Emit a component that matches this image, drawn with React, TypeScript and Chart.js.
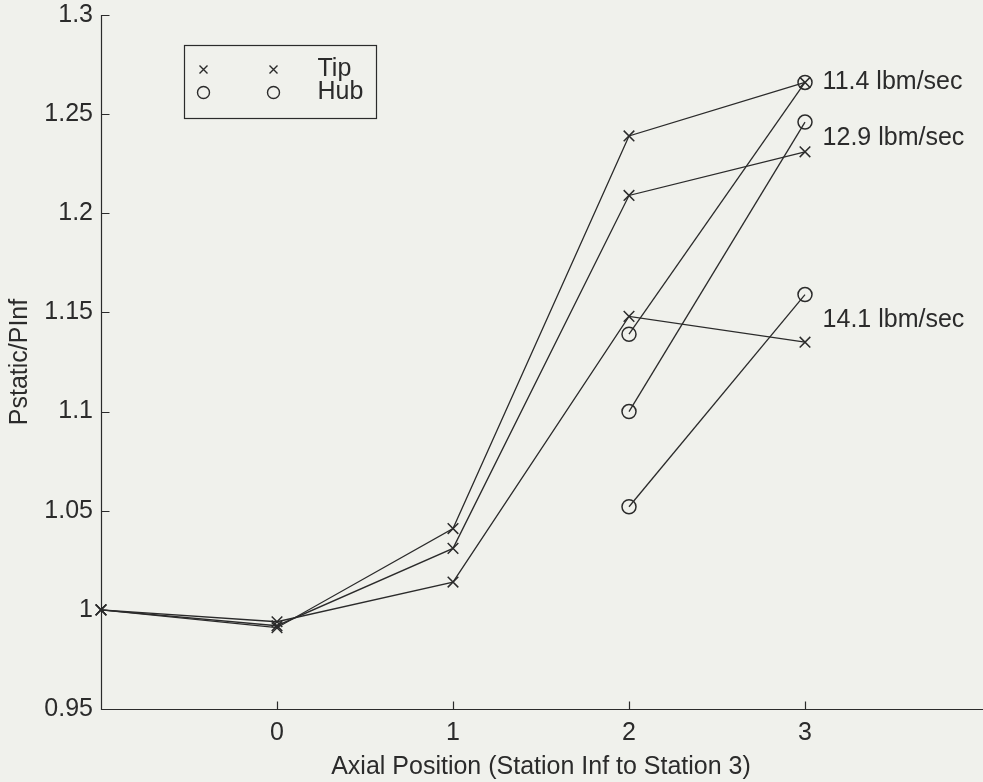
import React, { useEffect, useRef } from 'react';
import { Chart, registerables } from 'chart.js';

Chart.register(...registerables);

// Axial stations: -1 stands for "Station Inf"
const stations = [-1, 0, 1, 2, 3];
const hubStations = [2, 3];

// Tip static pressure ratio, one series per mass flow rate
const tip114 = [1.0, 0.991, 1.041, 1.239, 1.266];
const tip129 = [1.0, 0.992, 1.031, 1.209, 1.231];
const tip141 = [1.0, 0.994, 1.014, 1.148, 1.135];

// Hub static pressure ratio (stations 2 and 3 only)
const hub114 = [1.139, 1.266];
const hub129 = [1.1, 1.246];
const hub141 = [1.052, 1.159];

const xTicks = [0, 1, 2, 3];
const yTicks = [0.95, 1, 1.05, 1.1, 1.15, 1.2, 1.25, 1.3];

const flowLabels = ['11.4 lbm/sec', '12.9 lbm/sec', '14.1 lbm/sec'];
const flowLabelX = 3.1;
const flowLabelY = [1.266, 1.238, 1.146];

const legendLabels = ['Tip', 'Hub'];

const INK = '#2b2b2b';
const BG = '#f0f1ec';
const FONT = '"Liberation Sans", Arial, Helvetica, sans-serif';
const FONT_SIZE = 25;
const VIEW_W = 983;
const VIEW_H = 782;
const CANVAS_W = 990;

const toPoints = (xs: number[], ys: number[]) => xs.map((x, i) => ({ x, y: ys[i] }));

const tipStyle = {
  borderColor: INK,
  borderWidth: 1.3,
  pointStyle: 'crossRot',
  pointRadius: 7.5,
  pointBorderWidth: 1.5,
  pointBorderColor: INK,
  pointBackgroundColor: 'rgba(0,0,0,0)',
  showLine: true,
  fill: false,
  tension: 0,
  clip: false,
};

const hubStyle = {
  ...tipStyle,
  pointStyle: 'circle',
  pointRadius: 7,
};

const backdrop = {
  id: 'backdrop',
  beforeDraw(chart: any) {
    const { ctx } = chart;
    ctx.save();
    ctx.fillStyle = BG;
    ctx.fillRect(0, 0, chart.width, chart.height);
    ctx.restore();
  },
};

// Axis lines with inward tick marks
const axesFrame = {
  id: 'axesFrame',
  beforeDatasetsDraw(chart: any) {
    const { ctx, chartArea: a, scales } = chart;
    const xs = scales.x;
    const ys = scales.y;
    const left = Math.round(a.left) + 0.5;
    const bottom = Math.round(a.bottom) + 0.5;
    ctx.save();
    ctx.strokeStyle = INK;
    ctx.lineWidth = 1.2;
    ctx.beginPath();
    ctx.moveTo(left, Math.round(a.top));
    ctx.lineTo(left, bottom);
    ctx.lineTo(chart.width, bottom);
    for (const v of yTicks) {
      const py = Math.round(ys.getPixelForValue(v)) + 0.5;
      ctx.moveTo(left, py);
      ctx.lineTo(left + 8, py);
    }
    for (const v of xTicks) {
      const px = Math.round(xs.getPixelForValue(v)) + 0.5;
      ctx.moveTo(px, bottom);
      ctx.lineTo(px, bottom - 8);
    }
    ctx.stroke();
    ctx.restore();
  },
};

// Flow-rate labels and the marker legend box
const annotations = {
  id: 'annotations',
  afterDatasetsDraw(chart: any) {
    const { ctx, chartArea: a, scales } = chart;
    ctx.save();
    ctx.fillStyle = INK;
    ctx.font = `${FONT_SIZE}px ${FONT}`;
    ctx.textAlign = 'left';
    ctx.textBaseline = 'middle';
    flowLabels.forEach((t, i) => {
      ctx.fillText(t, scales.x.getPixelForValue(flowLabelX), scales.y.getPixelForValue(flowLabelY[i]));
    });

    const bx = Math.round(a.left + 83) + 0.5;
    const by = Math.round(a.top + 30) + 0.5;
    const bw = 192;
    const bh = 73;
    ctx.strokeStyle = INK;
    ctx.lineWidth = 1.2;
    ctx.strokeRect(bx, by, bw, bh);

    const rows = [by + 24, by + 47];
    const markX = [bx + 19, bx + 89];
    ctx.lineWidth = 1.4;
    markX.forEach((mx) => {
      const r = 4;
      ctx.beginPath();
      ctx.moveTo(mx - r, rows[0] - r);
      ctx.lineTo(mx + r, rows[0] + r);
      ctx.moveTo(mx - r, rows[0] + r);
      ctx.lineTo(mx + r, rows[0] - r);
      ctx.stroke();
      ctx.beginPath();
      ctx.arc(mx, rows[1], 6, 0, Math.PI * 2);
      ctx.stroke();
    });
    legendLabels.forEach((t, i) => {
      ctx.fillText(t, bx + 133, rows[i]);
    });
    ctx.restore();
  },
};

export default function App() {
  const canvasRef = useRef<HTMLCanvasElement | null>(null);

  useEffect(() => {
    const canvas = canvasRef.current;
    if (!canvas) return;
    const chart = new Chart(canvas, {
      type: 'scatter',
      data: {
        datasets: [
          { label: 'Tip 11.4', data: toPoints(stations, tip114), ...tipStyle },
          { label: 'Tip 12.9', data: toPoints(stations, tip129), ...tipStyle },
          { label: 'Tip 14.1', data: toPoints(stations, tip141), ...tipStyle },
          { label: 'Hub 11.4', data: toPoints(hubStations, hub114), ...hubStyle },
          { label: 'Hub 12.9', data: toPoints(hubStations, hub129), ...hubStyle },
          { label: 'Hub 14.1', data: toPoints(hubStations, hub141), ...hubStyle },
        ] as any,
      },
      options: {
        animation: false,
        responsive: false,
        devicePixelRatio: 1,
        layout: { padding: { top: 15, right: 2, left: 0, bottom: 0 } },
        plugins: {
          legend: { display: false },
          tooltip: { enabled: false },
        },
        scales: {
          x: {
            type: 'linear',
            min: -1,
            max: 4,
            afterBuildTicks: (s: any) => {
              s.ticks = xTicks.map((v) => ({ value: v }));
            },
            afterFit: (s: any) => {
              s.height = 73;
              s.paddingLeft = 0;
              s.paddingRight = 0;
            },
            grid: { display: false, drawTicks: false },
            border: { display: false },
            ticks: {
              color: INK,
              font: { family: FONT, size: FONT_SIZE },
              padding: 9,
              maxRotation: 0,
              callback: (v: any) => String(v),
            },
            title: {
              display: true,
              text: 'Axial Position (Station Inf to Station 3)',
              color: INK,
              font: { family: FONT, size: FONT_SIZE },
              padding: { top: 0, bottom: 0 },
            },
          },
          y: {
            type: 'linear',
            min: 0.95,
            max: 1.3,
            afterBuildTicks: (s: any) => {
              s.ticks = yTicks.map((v) => ({ value: v }));
            },
            afterFit: (s: any) => {
              s.width = 101;
              s.paddingTop = 0;
              s.paddingBottom = 0;
            },
            grid: { display: false, drawTicks: false },
            border: { display: false },
            ticks: {
              color: INK,
              font: { family: FONT, size: FONT_SIZE },
              padding: 8,
              callback: (v: any) => String(Number(Number(v).toFixed(2))),
            },
            title: {
              display: true,
              text: 'Pstatic/PInf',
              color: INK,
              font: { family: FONT, size: FONT_SIZE },
              padding: { top: 5, bottom: 0 },
            },
          },
        },
      } as any,
      plugins: [backdrop, axesFrame, annotations],
    });
    return () => chart.destroy();
  }, []);

  return (
    <div
      style={{
        position: 'fixed',
        left: 0,
        top: 0,
        width: VIEW_W,
        height: VIEW_H,
        overflow: 'hidden',
        background: BG,
      }}
    >
      <canvas ref={canvasRef} width={CANVAS_W} height={VIEW_H} style={{ display: 'block' }} />
    </div>
  );
}
